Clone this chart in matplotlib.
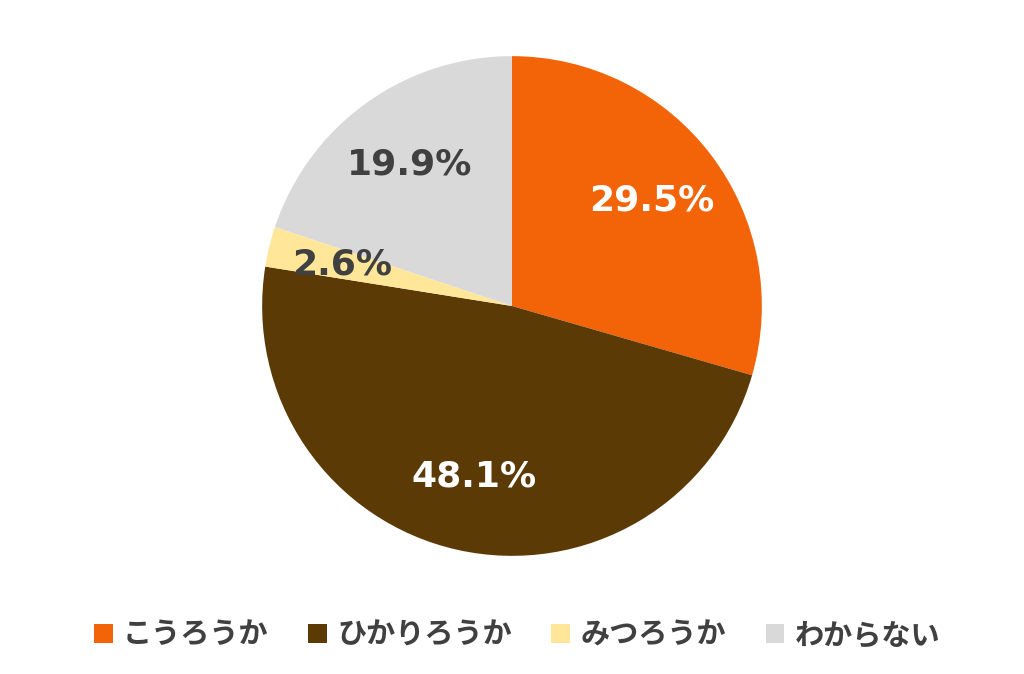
import matplotlib.pyplot as plt
from matplotlib.patches import Patch

plt.rcParams['font.family'] = ['Noto Sans CJK JP', 'DejaVu Sans']

# data
labels = ['こうろうか', 'ひかりろうか', 'みつろうか', 'わからない']
values = [29.5, 48.1, 2.6, 19.9]
colors = ['#F26407', '#5C3A06', '#FFE699', '#D9D9D9']
text_colors = ['white', 'white', '#404040', '#404040']

fig = plt.figure(figsize=(10.24, 6.74), dpi=100)
ax = fig.add_axes([0.256, 0.175, 0.488, 0.742])

wedges, texts, autotexts = ax.pie(values, colors=colors, startangle=90, counterclock=False,
                                  autopct='%1.1f%%', pctdistance=0.7,
                                  wedgeprops={'linewidth': 0})
for t, c in zip(autotexts, text_colors):
    t.set_color(c)
    t.set_fontsize(26)
    t.set_fontweight('bold')
    t.set_family(['DejaVu Sans'])
ax.set_xlim(-1, 1)
ax.set_ylim(-1, 1)
ax.set_aspect('equal')

# legend along the bottom
handles = [Patch(facecolor=c, edgecolor='none') for c in colors]
leg = fig.legend(handles, labels, loc='center', bbox_to_anchor=(0.505, 0.058), ncol=4,
                 frameon=False, fontsize=21, handlelength=0.65, handleheight=0.65,
                 handletextpad=0.35, columnspacing=1.35)
for t in leg.get_texts():
    t.set_color('#404040')
    t.set_fontweight('bold')

fig.savefig('out.png', dpi=100)
